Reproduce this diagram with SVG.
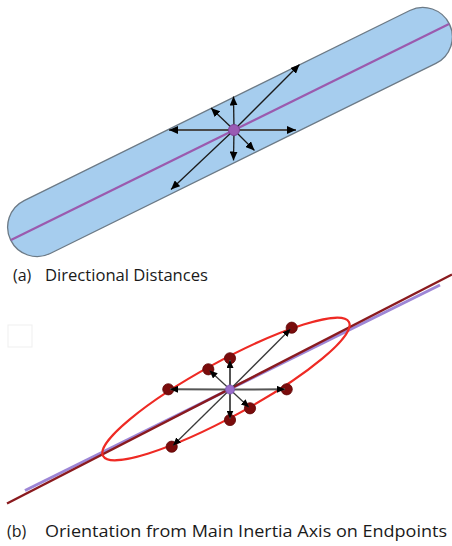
<svg xmlns="http://www.w3.org/2000/svg" width="452" height="546" viewBox="0 0 452 546">
<defs>
<marker id="ah" viewBox="0 0 9 8" refX="9" refY="4" markerWidth="9" markerHeight="8" markerUnits="userSpaceOnUse" orient="auto">
<path d="M0,0 L9,4 L0,8 z" fill="#000"/>
</marker>
<marker id="ahs" viewBox="0 0 8 7" refX="8" refY="3.5" markerWidth="8" markerHeight="7" markerUnits="userSpaceOnUse" orient="auto">
<path d="M0,0 L8,3.5 L0,7 z" fill="#000"/>
</marker>
</defs>
<style>
.cap{fill:#a6cdee;stroke:#6c7a86;stroke-width:1.3}
.axisA{stroke:#9b5aae;stroke-width:2.2;fill:none}
.arr{stroke:#1a1a1a;stroke-width:1.3;fill:none;marker-end:url(#ah)}
.arrh{stroke:#4a4a4a;stroke-width:2;fill:none;marker-end:url(#ah)}
.arrb{stroke:#3a3a3a;stroke-width:1.3;fill:none;marker-end:url(#ahs)}
.arrbh{stroke:#555;stroke-width:2;fill:none;marker-end:url(#ahs)}
.ctr{fill:#9a5bb4;stroke:#7a3f94;stroke-width:1}
.ell{fill:none;stroke:#ee2a24;stroke-width:2.2}
.ep{fill:#7a0c0c;stroke:#5e0808;stroke-width:0.8}
.lbl{font-family:"Open Sans","Liberation Sans",sans-serif;font-size:16px;fill:#1a1a1a}
</style>

<!-- (a) Directional Distances -->
<g id="capsule">
<rect class="cap" x="-244.5" y="-29.5" width="489" height="59" rx="29.5" ry="29.5" transform="translate(230,132) rotate(-26.24)"/>
<line class="axisA" x1="11" y1="240" x2="449" y2="24"/>
</g>
<g id="arrows-a">
<line class="arrh" x1="234" y1="130" x2="169" y2="130"/>
<line class="arrh" x1="234" y1="130" x2="296" y2="130"/>
<line class="arr" x1="234" y1="130" x2="233.5" y2="96.5"/>
<line class="arr" x1="234" y1="130" x2="233.5" y2="160.5"/>
<line class="arr" x1="234" y1="130" x2="211" y2="108"/>
<line class="arr" x1="234" y1="130" x2="254.5" y2="150.5"/>
<line class="arr" x1="234" y1="130" x2="299.5" y2="64.5"/>
<line class="arr" x1="234" y1="130" x2="171" y2="189.5"/>
</g>
<g id="center-a">
<circle class="ctr" cx="234" cy="130" r="5.5"/>
</g>
<g id="label-a">
<text class="lbl" x="13" y="281">(a)</text>
<text class="lbl" x="45" y="281" textLength="163" lengthAdjust="spacingAndGlyphs">Directional Distances</text>
</g>

<!-- (b) Orientation from Main Inertia Axis on Endpoints -->
<g id="blank-box">
<rect x="8" y="325" width="24" height="22" fill="#fff" stroke="#efefef" stroke-width="1"/>
</g>
<g id="axes-b">
<line x1="25" y1="490.5" x2="440" y2="285" stroke="#9d86d6" stroke-width="3"/>
<line x1="7" y1="503.5" x2="452" y2="274.5" stroke="#8a1a1e" stroke-width="2.4"/>
</g>
<g id="ellipse-b">
<ellipse class="ell" cx="226" cy="389" rx="140" ry="27.5" transform="rotate(-28.6 226 389)"/>
</g>
<g id="endpoints-b">
<circle class="ep" cx="168.3" cy="389.3" r="5.6"/>
<circle class="ep" cx="286.7" cy="389.3" r="5.6"/>
<circle class="ep" cx="230" cy="358.3" r="5.6"/>
<circle class="ep" cx="230" cy="420" r="5.6"/>
<circle class="ep" cx="208.3" cy="369.3" r="5.6"/>
<circle class="ep" cx="250" cy="408.3" r="5.6"/>
<circle class="ep" cx="291.7" cy="327.7" r="5.6"/>
<circle class="ep" cx="171.7" cy="446.7" r="5.6"/>
</g>
<g id="arrows-b">
<line class="arrbh" x1="230" y1="389.5" x2="170" y2="389.3"/>
<line class="arrbh" x1="230" y1="389.5" x2="285" y2="389.3"/>
<line class="arrbh" x1="230" y1="389.5" x2="230" y2="360"/>
<line class="arrbh" x1="230" y1="389.5" x2="230" y2="418.5"/>
<line class="arrb" x1="230" y1="389.5" x2="209.5" y2="370.5"/>
<line class="arrb" x1="230" y1="389.5" x2="249" y2="407.3"/>
<line class="arrb" x1="230" y1="389.5" x2="290.5" y2="329"/>
<line class="arrb" x1="230" y1="389.5" x2="173" y2="445.5"/>
</g>
<g id="center-b">
<circle cx="230" cy="389.5" r="4.5" fill="#9a6ccc" stroke="#7d55b0" stroke-width="0.8"/>
</g>
<g id="label-b">
<text class="lbl" x="7" y="537">(b)</text>
<text class="lbl" x="45" y="537" textLength="402" lengthAdjust="spacingAndGlyphs">Orientation from Main Inertia Axis on Endpoints</text>
</g>
</svg>
